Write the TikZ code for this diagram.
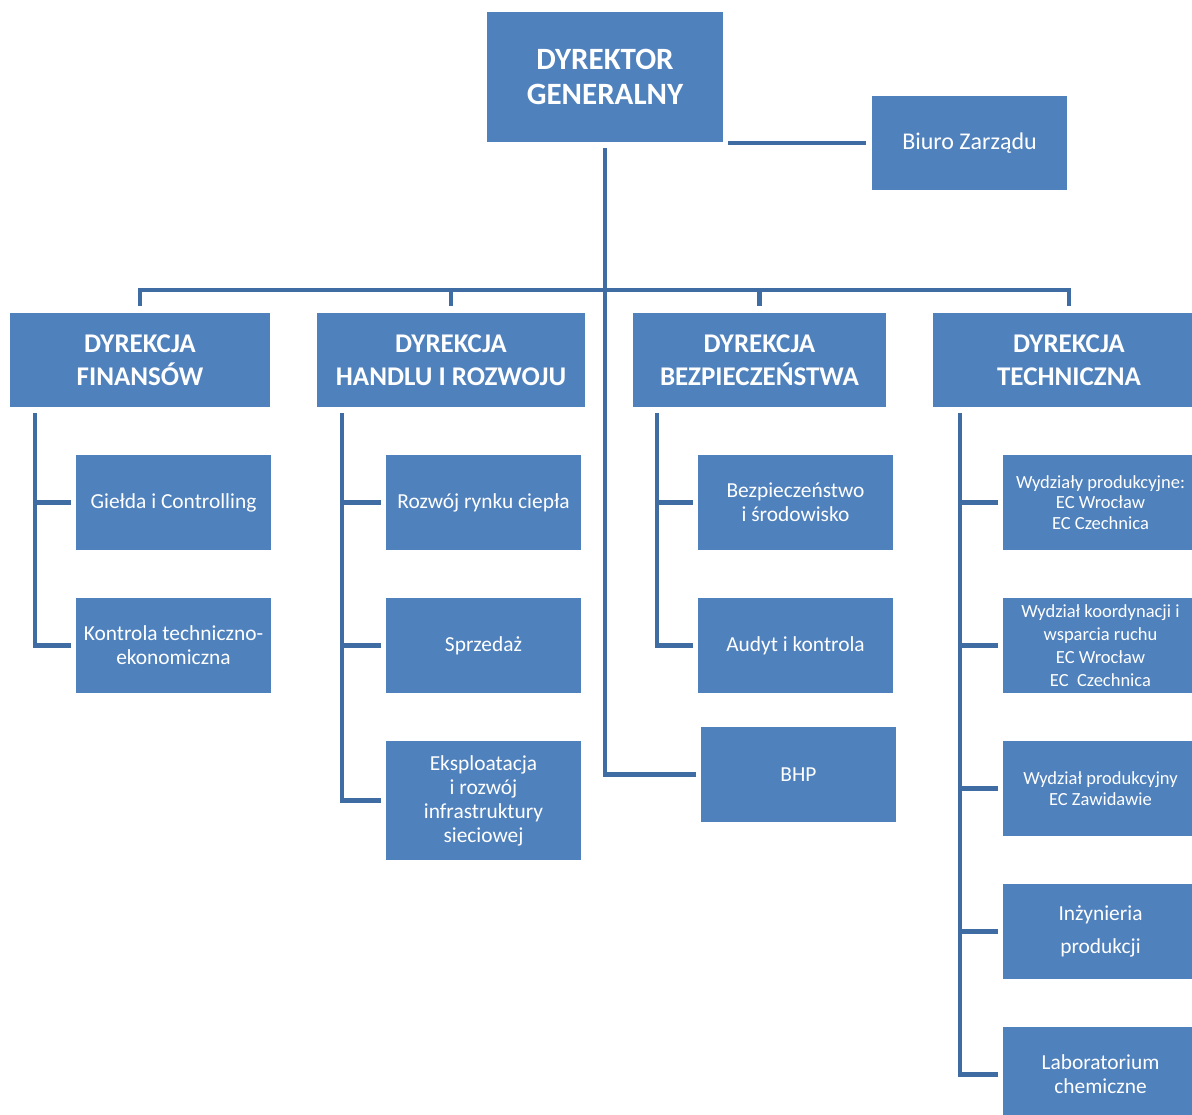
\documentclass[tikz,border=0pt]{standalone}
\usepackage{fontspec}
\setmainfont{Carlito}
\usetikzlibrary{calc}

\definecolor{boxblue}{HTML}{4F81BD}
\definecolor{lineblue}{HTML}{3F6CA3}

\tikzset{
every picture/.style={x=1pt,y=-1pt},
unit/.style={fill=boxblue,text=white,align=center,inner sep=2pt,
  minimum width=195pt,minimum height=95pt,font=\fontsize{21.4}{24}\selectfont},
tunit/.style={unit,font=\fontsize{18.5}{20.5}\selectfont},
head/.style={unit,minimum height=94pt,font=\bfseries\fontsize{27}{33}\selectfont},
link/.style={draw=lineblue,line width=4.5pt,shorten >=5pt}
}

\begin{document}
\begin{tikzpicture}
  \fill[white] (0,0) rectangle (1192,1115);
  \useasboundingbox (0,0) rectangle (1192,1115);

  % top level
  \node[head,minimum width=236pt,minimum height=130pt,font=\bfseries\fontsize{31}{35}\selectfont] at (605,77) (gen) {DYREKTOR\\GENERALNY};
  \node[unit,minimum height=94pt,font=\fontsize{24}{28}\selectfont] at (969.5,143) (biuro) {Biuro Zarządu};

  % dyrekcje
  \node[head,minimum width=260pt] at (140,360) (fin) {DYREKCJA\\FINANSÓW};
  \node[head,minimum width=268pt] at (451,360) (han) {DYREKCJA\\HANDLU I ROZWOJU};
  \node[head,minimum width=253pt] at (759.5,360) (bez) {DYREKCJA\\BEZPIECZEŃSTWA};
  \node[head,minimum width=272pt] at (1069,360) (tech) {DYREKCJA\\TECHNICZNA};

  % finanse
  \node[unit] at (173.5,502.5) (gie) {Giełda i Controlling};
  \node[unit] at (173.5,645.5) (kon) {Kontrola techniczno-\\ekonomiczna};

  % handel i rozwoj
  \node[unit] at (483.5,502.5) (roz) {Rozwój rynku ciepła};
  \node[unit] at (483.5,645.5) (spr) {Sprzedaż};
  \node[unit,minimum height=119pt] at (483.5,800.5) (eks) {Eksploatacja\\i rozwój\\infrastruktury\\sieciowej};

  % bezpieczenstwo
  \node[unit] at (795.5,502.5) (bzs) {Bezpieczeństwo\\i środowisko};
  \node[unit] at (795.5,645.5) (aud) {Audyt i kontrola};
  \node[unit] at (798.5,774.5) (bhp) {BHP};

  % technika
  \node[tunit] at (1100.5,502.5) (tpw) {Wydziały produkcyjne:\\EC Wrocław\\EC Czechnica};
  \node[tunit,font=\fontsize{18.5}{23}\selectfont] at (1100.5,645.5) (tkw) {Wydział koordynacji i\\wsparcia ruchu\\EC Wrocław\\EC\ \ Czechnica};
  \node[tunit] at (1100.5,788.5) (tpz) {Wydział produkcyjny\\EC Zawidawie};
  \node[unit,font=\fontsize{21.4}{33}\selectfont] at (1100.5,931.5) (tinz) {Inżynieria\\produkcji};
  \node[unit] at (1100.5,1074.5) (tlab) {Laboratorium\\chemiczne};

  % connectors from the top
  \draw[link,shorten <=6pt] (biuro.west) -- (biuro.west -| gen.east);
  \draw[link,shorten <=6pt] (gen.south) |- (bhp.west);
  \coordinate (bus) at (605,290);
  \draw[link,shorten <=7pt,shorten >=7pt] (fin.north) |- (bus) -| (tech.north);
  \draw[link,shorten >=7pt] (han.north |- bus) -- (han.north);
  \draw[link,shorten >=7pt] (bez.north |- bus) -- (bez.north);

  % branches
  \coordinate (finbar) at ($(fin.south west)+(25,6)$);
  \draw[link] (finbar) |- (kon.west);
  \draw[link] (finbar |- gie.west) -- (gie.west);

  \coordinate (hanbar) at ($(han.south west)+(25,6)$);
  \draw[link] (hanbar) |- (eks.west);
  \foreach \s in {roz,spr} \draw[link] (hanbar |- \s.west) -- (\s.west);

  \coordinate (bezbar) at ($(bez.south west)+(24,6)$);
  \draw[link] (bezbar) |- (aud.west);
  \draw[link] (bezbar |- bzs.west) -- (bzs.west);

  \coordinate (techbar) at ($(tech.south west)+(27,6)$);
  \draw[link] (techbar) |- (tlab.west);
  \foreach \s in {tpw,tkw,tpz,tinz} \draw[link] (techbar |- \s.west) -- (\s.west);

\end{tikzpicture}
\end{document}
